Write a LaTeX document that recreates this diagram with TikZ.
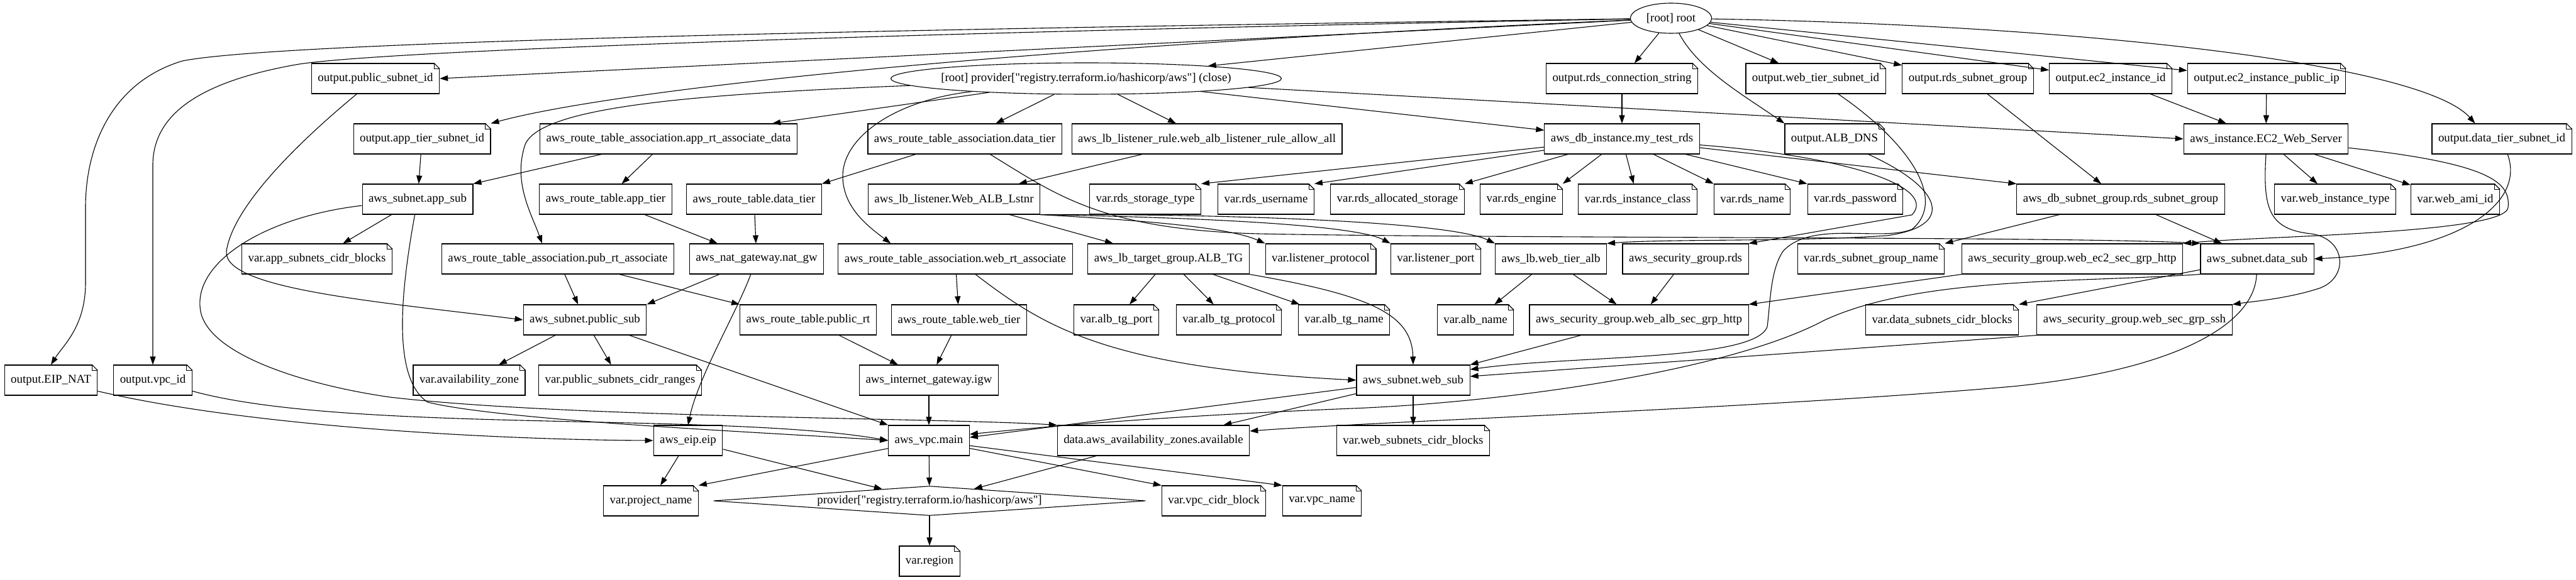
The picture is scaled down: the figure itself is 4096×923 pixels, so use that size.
\documentclass[tikz,border=0pt]{standalone}
\usepackage{fontspec}
\setmainfont{Liberation Serif}
\usetikzlibrary{calc, positioning, shapes.geometric, arrows.meta}

\begin{document}
\begin{tikzpicture}[x=1pt, y=-1pt,
  every node/.style={font=\fontsize{18.9}{22}\selectfont},
  res/.style={draw, line width=1.1pt, fill=white, rectangle, minimum height=48pt, inner xsep=10pt, inner ysep=2pt},
  note/.style={res},
  edge/.style={line width=1.1pt, -{Triangle[length=13pt,width=9pt]}}]
  \useasboundingbox (0,0) rectangle (4096,923);

  % Root and provider nodes
  \node[ellipse, draw, line width=1.1pt, minimum width=129pt, minimum height=48pt, inner sep=0pt] (root) at (2657,29) {[root] root};
  \node[ellipse, draw, line width=1.1pt, minimum width=621pt, minimum height=50pt, inner sep=0pt] (prc) at (1727,125) {};
  \node (prctxt) at (prc) {[root] provider[\textquotedbl registry.terraform.io/hashicorp/aws\textquotedbl] (close)};
  \node[diamond, draw, line width=1.1pt, minimum width=687pt, minimum height=47pt, inner sep=0pt] (prov) at (1478,797) {};
  \node (provtxt) at (prov) {provider[\textquotedbl registry.terraform.io/hashicorp/aws\textquotedbl]};

  % Row 1
  \node[note] (ops) at (597,125) {output.public\_subnet\_id};
  \node[note] (ordscs) at (2579,125) {output.rds\_connection\_string};
  \node[note] (owts) at (2887,125) {output.web\_tier\_subnet\_id};
  \node[note] (orsg) at (3129,125) {output.rds\_subnet\_group};
  \node[note] (oec2id) at (3356,125) {output.ec2\_instance\_id};
  \node[note] (oec2ip) at (3604,125) {output.ec2\_instance\_public\_ip};

  % Row 2
  \node[note] (oapp) at (671,221) {output.app\_tier\_subnet\_id};
  \node[res] (apprta) at (1063,221) {aws\_route\_table\_association.app\_rt\_associate\_data};
  \node[res] (rtadt) at (1534,221) {aws\_route\_table\_association.data\_tier};
  \node[res] (lbrule) at (1919,221) {aws\_lb\_listener\_rule.web\_alb\_listener\_rule\_allow\_all};
  \node[res] (rds) at (2579,221) {aws\_db\_instance.my\_test\_rds};
  \node[note] (oalb) at (2917,221) {output.ALB\_DNS};
  \node[res] (ec2) at (3603,221) {aws\_instance.EC2\_Web\_Server};
  \node[note] (odts) at (3978,221) {output.data\_tier\_subnet\_id};

  % Row 3
  \node[res] (appsub) at (664,317) {aws\_subnet.app\_sub};
  \node[res] (rtapp) at (963,317) {aws\_route\_table.app\_tier};
  \node[res] (rtdt) at (1199,317) {aws\_route\_table.data\_tier};
  \node[res] (listener) at (1517,317) {aws\_lb\_listener.Web\_ALB\_Lstnr};
  \node[note] (vstor) at (1821,317) {var.rds\_storage\_type};
  \node[note] (vuser) at (2013,317) {var.rds\_username};
  \node[note] (valloc) at (2222,317) {var.rds\_allocated\_storage};
  \node[note] (veng) at (2419,317) {var.rds\_engine};
  \node[note] (vclass) at (2604,317) {var.rds\_instance\_class};
  \node[note] (vrname) at (2786,317) {var.rds\_name};
  \node[note] (vrpass) at (2950,317) {var.rds\_password};
  \node[res] (dbsg) at (3372,317) {aws\_db\_subnet\_group.rds\_subnet\_group};
  \node[note] (vwinst) at (3713,317) {var.web\_instance\_type};
  \node[note] (vami) at (3904,317) {var.web\_ami\_id};

  % Row 4
  \node[note] (appcidr) at (504,412) {var.app\_subnets\_cidr\_blocks};
  \node[res] (pubrta) at (887,412) {aws\_route\_table\_association.pub\_rt\_associate};
  \node[res] (natgw) at (1203,412) {aws\_nat\_gateway.nat\_gw};
  \node[res] (webrta) at (1519,412) {aws\_route\_table\_association.web\_rt\_associate};
  \node[res] (albtg) at (1858,412) {aws\_lb\_target\_group.ALB\_TG};
  \node[note] (vlproto) at (2100,412) {var.listener\_protocol};
  \node[note] (vlport) at (2283,412) {var.listener\_port};
  \node[res] (lbalb) at (2466,412) {aws\_lb.web\_tier\_alb};
  \node[res] (sgrds) at (2680,412) {aws\_security\_group.rds};
  \node[note] (vsgname) at (2975,412) {var.rds\_subnet\_group\_name};
  \node[res] (ec2sg) at (3295,412) {aws\_security\_group.web\_ec2\_sec\_grp\_http};
  \node[res] (datasub) at (3589,412) {aws\_subnet.data\_sub};

  % Row 5
  \node[res] (pubsub) at (930,509) {aws\_subnet.public\_sub};
  \node[res] (publicrt) at (1285,509) {aws\_route\_table.public\_rt};
  \node[res] (webrt) at (1525,509) {aws\_route\_table.web\_tier};
  \node[note] (vtgport) at (1775,509) {var.alb\_tg\_port};
  \node[note] (vtgproto) at (1954,509) {var.alb\_tg\_protocol};
  \node[note] (vtgname) at (2137,509) {var.alb\_tg\_name};
  \node[note] (valbname) at (2346,509) {var.alb\_name};
  \node[res] (albsg) at (2606,509) {aws\_security\_group.web\_alb\_sec\_grp\_http};
  \node[note] (vdatacidr) at (3088,509) {var.data\_subnets\_cidr\_blocks};
  \node[res] (sshsg) at (3394,509) {aws\_security\_group.web\_sec\_grp\_ssh};

  % Row 6
  \node[note] (oeip) at (81,605) {output.EIP\_NAT};
  \node[note] (ovpc) at (243,605) {output.vpc\_id};
  \node[note] (vaz) at (746,605) {var.availability\_zone};
  \node[note] (vpubcidr) at (986,605) {var.public\_subnets\_cidr\_ranges};
  \node[res] (igw) at (1477,605) {aws\_internet\_gateway.igw};
  \node[res] (websub) at (2247,605) {aws\_subnet.web\_sub};

  % Row 7
  \node[res] (eip) at (1094,701) {aws\_eip.eip};
  \node[res] (vpc) at (1477,701) {aws\_vpc.main};
  \node[res] (avail) at (1834,701) {data.aws\_availability\_zones.available};
  \node[note] (vwebcidr) at (2247,701) {var.web\_subnets\_cidr\_blocks};

  % Rows 8 and 9
  \node[note] (vproj) at (1035,797) {var.project\_name};
  \node[note] (vvpccidr) at (1930,797) {var.vpc\_cidr\_block};
  \node[note] (vvpcname) at (2102,797) {var.vpc\_name};
  \node[note] (vregion) at (1478,893) {var.region};

  % Folded corners of the note nodes
  \foreach \n in {ops,ordscs,owts,orsg,oec2id,oec2ip,oapp,oalb,odts,vstor,vuser,valloc,veng,vclass,vrname,vrpass,vwinst,vami,appcidr,vlproto,vlport,vsgname,vtgport,vtgproto,vtgname,valbname,vdatacidr,oeip,ovpc,vaz,vpubcidr,vwebcidr,vproj,vvpccidr,vvpcname,vregion}{
    \fill[white] ($(\n.north east)+(-9,-1)$) -- ($(\n.north east)+(1,-1)$) -- ($(\n.north east)+(1,9)$) -- cycle;
    \draw[line width=1.1pt] ($(\n.north east)+(-9,0)$) -- ($(\n.north east)+(0,9)$);
    \draw[line width=0.6pt] ($(\n.north east)+(-9,0)$) -- ($(\n.north east)+(-9,9)$) -- ($(\n.north east)+(0,9)$);
  }

  % Edges from the root
  \draw[edge] (root) .. controls (1500,45) and (450,65) .. (290,97) .. controls (180,130) and (136,230) .. (136,330) -- (136,450) .. controls (136,520) and (100,550) .. (oeip.north);
  \draw[edge] (root) .. controls (1500,50) and (600,80) .. (470,103) .. controls (320,130) and (245,180) .. (243,260) -- (ovpc.north);
  \draw[edge] (root) -- (ops.east);
  \draw[edge] (root) .. controls (1500,80) and (950,150) .. (oapp.north east);
  \draw[edge] (root) -- (prc);
  \draw[edge] (root) -- (ordscs);
  \draw[edge] (root) .. controls (2700,110) and (2770,150) .. (oalb.north west);
  \draw[edge] (root) -- (owts);
  \draw[edge] (root) -- (orsg);
  \draw[edge] (root) -- (oec2id);
  \draw[edge] (root) -- (oec2ip);
  \draw[edge] (root) .. controls (3300,40) and (3850,100) .. (odts.150);

  % Edges from the provider close node
  \draw[edge] (prc) -- ($(apprta.north east)+(-40,0)$);
  \draw[edge] (prc) .. controls (1100,150) and (860,170) .. (835,230) .. controls (815,290) and (845,340) .. ($(pubrta.north)+(-25,0)$);
  \draw[edge] (prc) -- (rtadt);
  \draw[edge] (prc) -- (lbrule);
  \draw[edge] (prc) -- (rds);
  \draw[edge] (prc) -- (ec2.west);
  \draw[edge] (prc) .. controls (1420,160) and (1340,220) .. (1340,280) .. controls (1340,330) and (1380,360) .. ($(webrta.north west)+(84,0)$);

  % Edges from the outputs
  \draw[edge] (ops) .. controls (470,230) and (370,330) .. (360,400) .. controls (355,460) and (600,480) .. (pubsub.west);
  \draw[edge] (oapp) -- (appsub);
  \draw[edge] (ordscs) -- (rds);
  \draw[edge] (owts) .. controls (3040,230) and (3095,320) .. (3040,365) .. controls (2990,385) and (2880,350) .. (2835,400) .. controls (2815,430) and (2815,480) .. (2810,520) .. controls (2790,575) and (2500,565) .. ($(websub.east)+(0,-17)$);
  \draw[edge] (oalb) .. controls (3090,300) and (3110,360) .. (3000,375) .. controls (2850,385) and (2650,380) .. (lbalb.north east);
  \draw[edge] (orsg) -- (dbsg);
  \draw[edge] (oec2id) -- (ec2);
  \draw[edge] (oec2ip) -- (ec2);
  \draw[edge] (odts) .. controls (4015,320) and (3920,400) .. (datasub.east);
  \draw[edge] (oeip) .. controls (400,680) and (800,700) .. (eip.west);
  \draw[edge] (ovpc) .. controls (550,690) and (1150,655) .. (vpc.west);

  % Route tables, gateways and subnets
  \draw[edge] (apprta) -- (appsub.north east);
  \draw[edge] (apprta) -- (rtapp);
  \draw[edge] (rtadt) -- (rtdt.north east);
  \draw[edge] (rtadt) .. controls (1680,310) and (1750,365) .. (2000,372) .. controls (2400,380) and (3300,376) .. (datasub.north west);
  \draw[edge] (rtapp) -- (natgw);
  \draw[edge] (rtdt) -- (natgw);
  \draw[edge] (appsub) -- (appcidr);
  \draw[edge] (appsub) .. controls (640,450) and (620,600) .. (680,640) .. controls (800,670) and (1250,690) .. (vpc.west);
  \draw[edge] (appsub) .. controls (420,345) and (300,420) .. (320,500) .. controls (340,570) and (500,615) .. (620,632) .. controls (900,665) and (1500,665) .. (avail.north west);
  \draw[edge] (pubrta) -- (pubsub);
  \draw[edge] (pubrta) -- (publicrt.north west);
  \draw[edge] (natgw) -- (pubsub.north east);
  \draw[edge] (natgw) .. controls (1170,500) and (1110,600) .. (eip.north);
  \draw[edge] (pubsub) -- (vaz);
  \draw[edge] (pubsub) -- (vpubcidr);
  \draw[edge] (pubsub) -- (vpc.north west);
  \draw[edge] (publicrt) -- (igw);
  \draw[edge] (webrt) -- (igw);
  \draw[edge] (igw) -- (vpc);
  \draw[edge] (webrta) -- (webrt);
  \draw[edge] (webrta) .. controls (1660,520) and (1760,585) .. (websub.west);

  % Load balancer
  \draw[edge] (lbrule) -- (listener);
  \draw[edge] (listener) -- (albtg);
  \draw[edge] (listener.south east) .. controls (1800,350) and (1950,360) .. (vlproto.north west);
  \draw[edge] (listener.south east) .. controls (1850,345) and (2150,355) .. (vlport.north west);
  \draw[edge] (listener.south east) .. controls (1900,340) and (2300,350) .. (lbalb.north west);
  \draw[edge] (albtg) -- (vtgport);
  \draw[edge] (albtg) -- (vtgproto);
  \draw[edge] (albtg) -- (vtgname);
  \draw[edge] (albtg.south east) .. controls (2180,470) and (2245,500) .. (websub.north);
  \draw[edge] (lbalb) -- (valbname);
  \draw[edge] (lbalb) -- (albsg);

  % Security groups
  \draw[edge] (sgrds) -- (albsg);
  \draw[edge] (ec2sg.south west) -- (albsg.north east);
  \draw[edge] (albsg) -- (websub.north east);
  \draw[edge] (sshsg.south west) -- ($(websub.east)+(0,-6)$);

  % Database
  \draw[edge] (rds) -- (vstor.north east);
  \draw[edge] (rds) -- (vuser.north east);
  \draw[edge] (rds) -- (valloc.north east);
  \draw[edge] (rds) -- (veng.north east);
  \draw[edge] (rds) -- (vclass);
  \draw[edge] (rds) -- (vrname.north west);
  \draw[edge] (rds) -- (vrpass.north west);
  \draw[edge] (rds) -- (dbsg.north west);
  \draw[edge] (rds) .. controls (2950,250) and (3080,300) .. (3040,342) -- (sgrds.north east);
  \draw[edge] (dbsg) -- (vsgname.north east);
  \draw[edge] (dbsg) -- (datasub);

  % Web server
  \draw[edge] (ec2) -- (vwinst);
  \draw[edge] (ec2) -- (vami);
  \draw[edge] (ec2.south) .. controls (3598,330) and (3606,365) .. (3675,372) .. controls (3730,380) and (3735,440) .. (3690,458) .. controls (3640,475) and (3580,480) .. (sshsg.north east);
  \draw[edge] (ec2) .. controls (3960,260) and (3992,290) .. (3988,330) .. controls (3985,372) and (3600,375) .. (ec2sg.north east);

  % Subnets to VPC and zones
  \draw[edge] (datasub) -- (vdatacidr.north east);
  \draw[edge] (datasub.south west) .. controls (3300,450) and (3050,440) .. (2900,510) .. controls (2750,590) and (2400,640) .. (2150,650) .. controls (1900,660) and (1700,675) .. ($(vpc.east)+(0,-10)$);
  \draw[edge] (datasub) .. controls (3585,520) and (3450,590) .. (3200,615) .. controls (2800,650) and (2200,670) .. ($(avail.east)+(0,-15)$);
  \draw[edge] (websub) -- ($(vpc.east)+(0,-5)$);
  \draw[edge] (websub) -- ($(avail.north east)+(-42,0)$);
  \draw[edge] (websub) -- (vwebcidr);

  % VPC, EIP and provider
  \draw[edge] (vpc) -- (vproj.north east);
  \draw[edge] (vpc) -- (prov);
  \draw[edge] (vpc) -- (vvpccidr.north west);
  \draw[edge] (vpc) -- (vvpcname.north west);
  \draw[edge] (eip) -- (vproj);
  \draw[edge] (eip) -- (prov);
  \draw[edge] (avail) -- (prov);
  \draw[edge] (prov) -- (vregion);
\end{tikzpicture}
\end{document}
